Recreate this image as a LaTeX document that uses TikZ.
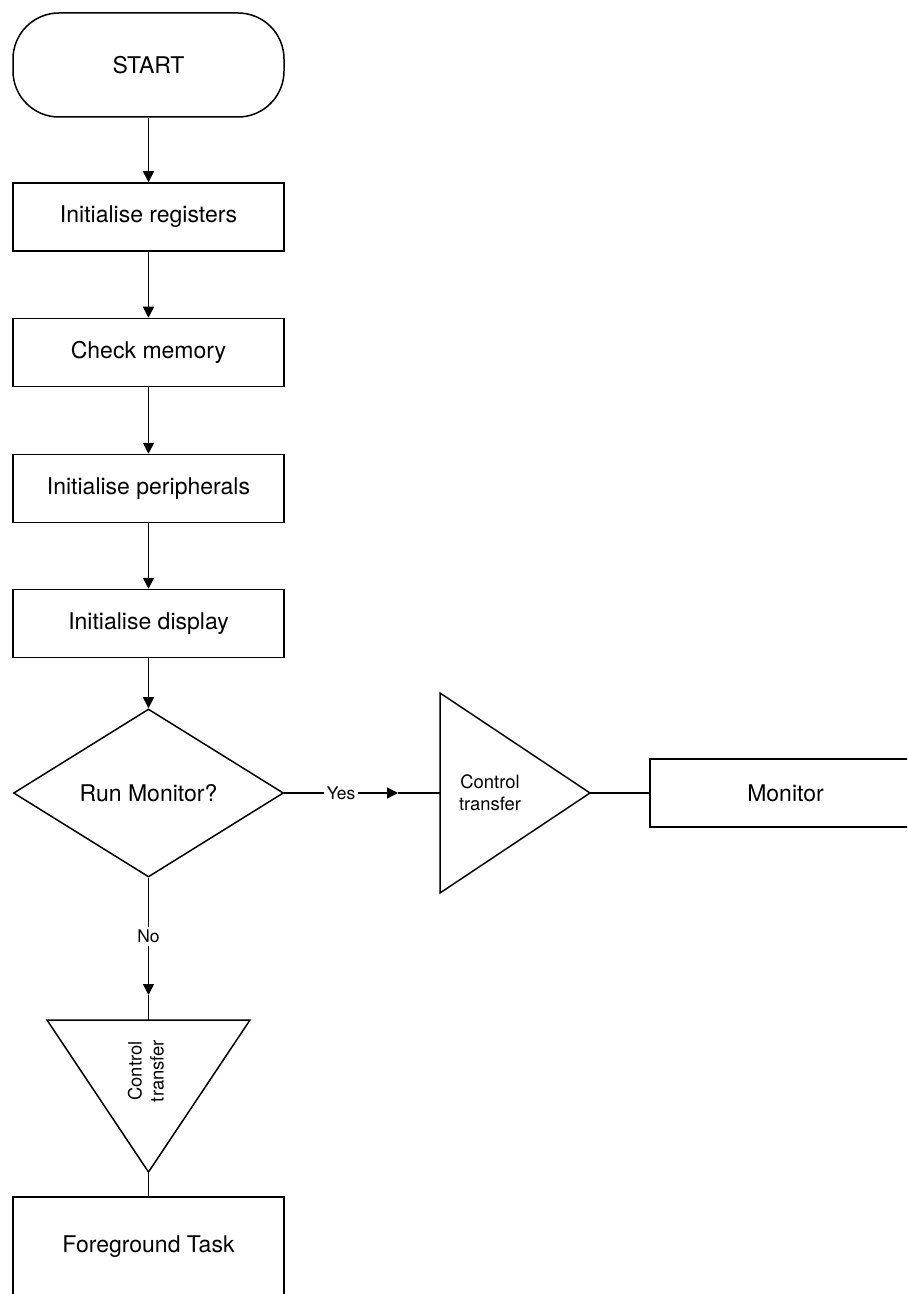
\documentclass[tikz,border=0pt]{standalone}
\usepackage{fontspec}
\setmainfont{TeX Gyre Heros}
\usetikzlibrary{shapes,arrows.meta}

\begin{document}
\begin{tikzpicture}[x=0.5pt,y=0.5pt,yscale=-1,line width=0.75pt,
    proc/.style={draw,rectangle,minimum width=135.5pt,minimum height=34pt,inner sep=0pt,font=\fontsize{11.5}{14}\selectfont},
    flow/.style={-{Triangle[length=5.5pt,width=5.5pt]}},
    lbl/.style={fill=white,inner sep=1.5pt,font=\fontsize{8.7}{10}\selectfont},
    xfer/.style={align=center,inner sep=0pt,font=\fontsize{9.2}{11}\selectfont}]
    \useasboundingbox (0,0) rectangle (907,1294);
    \clip (0,0) rectangle (907,1294);

    %Shape: Terminal
    \node [proc,rounded corners=23pt,minimum height=52pt] (start) at (148.5,65) {START};
    %Shape: Process boxes
    \node [proc] (initreg) at (148.5,217) {Initialise registers};
    \node [proc] (chkmem) at (148.5,352.5) {Check memory};
    \node [proc] (initper) at (148.5,488.5) {Initialise peripherals};
    \node [proc] (initdisp) at (148.5,623.5) {Initialise display};
    %Shape: Decision
    \node [draw,diamond,aspect=1.6,minimum width=135pt,minimum height=84pt,inner sep=0pt,font=\fontsize{11.5}{14}\selectfont] (runmon) at (148.5,793) {Run Monitor?};

    %Shape: Triangle (to the right)
    \draw (440,693) -- (590,793) -- (440,893) -- cycle ;
    \coordinate (xferAin) at (440,793);
    \coordinate (xferAout) at (590,793);
    \node [xfer] (xferA) at (490,793) {Control\\transfer};
    \node [proc] (monitor) at (785.5,793) {Monitor};

    %Shape: Triangle (pointing down)
    \draw (47,1020) -- (250,1020) -- (148.5,1172) -- cycle ;
    \coordinate (xferBin) at (148.5,1020);
    \coordinate (xferBout) at (148.5,1172);
    \node [xfer,rotate=90] (xferB) at (146,1071) {Control\\transfer};
    \node [proc,minimum height=50pt] (fgtask) at (148.5,1247) {Foreground Task};

    %Straight Lines
    \draw [flow] (start) -- (initreg);
    \draw [flow] (initreg) -- (chkmem);
    \draw [flow] (chkmem) -- (initper);
    \draw [flow] (initper) -- (initdisp);
    \draw [flow] (initdisp) -- (runmon);

    % Yes branch
    \coordinate (yestip) at (398,793);
    \draw [flow] (runmon.east) -- node [lbl] {Yes} (yestip);
    \draw (yestip) -- (xferAin);
    \draw (xferAout) -- (monitor.west);

    % No branch
    \coordinate (notip) at (148.5,995);
    \draw [flow] (runmon.south) -- node [lbl] {No} (notip);
    \draw (notip) -- (xferBin);
    \draw (xferBout) -- (fgtask.north);

\end{tikzpicture}
\end{document}
